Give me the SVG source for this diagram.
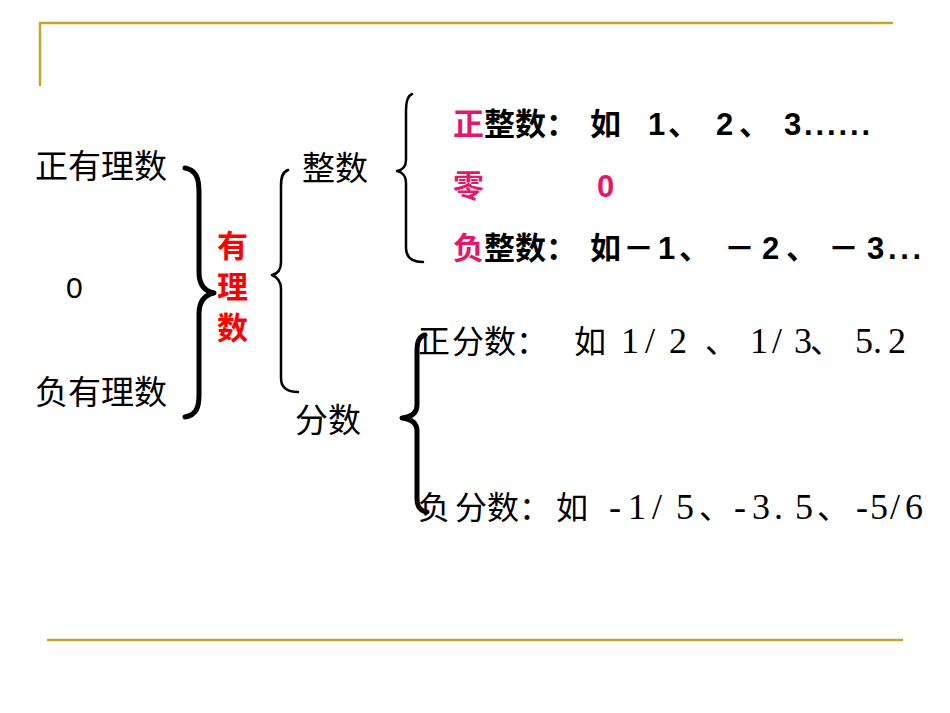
<svg xmlns="http://www.w3.org/2000/svg" width="950" height="713" viewBox="0 0 950 713">
<style>
.gold{stroke:#C9A22A;stroke-width:2.5;fill:none}
.brace{fill:none;stroke:#000;stroke-linecap:round;stroke-linejoin:round}
.thick{stroke-width:5}
.thin{stroke-width:2.5}
.cjk{font-family:"Noto Sans CJK SC","Noto Sans",sans-serif;font-size:33px;fill:#000}
.bold{font-family:"Noto Sans CJK SC","Liberation Sans",sans-serif;font-size:31px;font-weight:bold;fill:#000}
.num{font-family:"Liberation Sans",Arial,sans-serif;font-size:31px;font-weight:bold;fill:#000}
.pink{fill:#E5176C}
.red{font-family:"Noto Sans CJK SC",sans-serif;font-size:31px;font-weight:bold;fill:#FF0000}
.frc{font-family:"Noto Sans CJK SC",sans-serif;font-size:32px;fill:#000}
.ser{font-family:"Liberation Serif","Times New Roman",serif;font-size:36px;fill:#000}
</style>
<rect width="950" height="713" fill="#fff"/>
<g id="frame">
<line class="gold" x1="39" y1="23" x2="893" y2="23"/>
<line class="gold" x1="40" y1="23" x2="40" y2="86"/>
<line class="gold" x1="47" y1="640" x2="903" y2="640"/>
</g>
<g id="connectors">
<path class="brace thick" d="M185,168 C196,170 199,178 199,192 L199,272 C199,284 204,291 214,293 C204,295 199,302 199,314 L199,395 C199,408 196,415 185,417"/>
<path class="brace thin" d="M288,170 C282,172 281,178 281,186 L281,262 C281,270 277,274 272,275 C277,277 281,281 281,289 L281,378 C281,388 288,392 298,392"/>
<path class="brace thin" d="M412,94 C407,96 406,102 406,110 L406,160 C406,167 402,170 397,171 C402,172 406,176 406,183 L406,248 C406,257 412,262 423,262"/>
<path class="brace thick" d="M425,335 C418,337 417,343 417,352 L417,405 C417,413 411,417 402,418 C411,419 417,423 417,431 L417,498 C417,507 420,511 427,512"/>
</g>
<g id="pos-rational"><text class="cjk" x="35" y="178">正有理数</text></g>
<g id="zero"><text x="66" y="298" font-family="Liberation Sans, Arial, sans-serif" font-size="30" fill="#000">0</text></g>
<g id="neg-rational"><text class="cjk" x="35" y="404">负有理数</text></g>
<g id="rational">
<text class="red"><tspan x="217" y="257">有</tspan><tspan x="217" y="298">理</tspan><tspan x="217" y="339">数</tspan></text>
</g>
<g id="integer"><text class="cjk" x="302" y="180">整数</text></g>
<g id="fraction"><text class="cjk" x="295" y="432">分数</text></g>
<g id="pos-integer">
<text class="bold pink" x="453" y="135">正</text>
<text class="bold" x="484" y="135">整数：</text>
<text class="bold" x="590" y="135">如</text>
<text class="num" x="648" y="135">1</text>
<text class="bold" x="668" y="135">、</text>
<text class="num" x="716" y="135">2</text>
<text class="bold" x="739" y="135">、</text>
<text class="num" x="784" y="135" textLength="86" lengthAdjust="spacing">3......</text>
</g>
<g id="zero-integer">
<text class="bold pink" x="453" y="197">零</text>
<text class="num pink" x="597" y="197">0</text>
</g>
<g id="neg-integer">
<text class="bold pink" x="453" y="259">负</text>
<text class="bold" x="484" y="259">整数：</text>
<text class="bold" x="590" y="259">如</text>
<text class="bold" x="623" y="259">－</text>
<text class="num" x="658" y="259">1</text>
<text class="bold" x="679" y="259">、</text>
<text class="bold" x="724" y="259">－</text>
<text class="num" x="762" y="259">2</text>
<text class="bold" x="786" y="259">、</text>
<text class="bold" x="828" y="259">－</text>
<text class="num" x="867" y="259" textLength="54" lengthAdjust="spacing">3...</text>
</g>
<g id="pos-fraction">
<text class="frc pink" x="418" y="353">正</text>
<text class="frc" x="452" y="353">分数：</text>
<text class="frc" x="574" y="353">如</text>
<text class="ser" x="621 645 669" y="353">1/2</text>
<text class="frc" x="705" y="353">、</text>
<text class="ser" x="750 772 794" y="353">1/3</text>
<text class="frc" x="810" y="353">、</text>
<text class="ser" x="855 873 888" y="353">5.2</text>
</g>
<g id="neg-fraction">
<text class="frc pink" x="418" y="519">负</text>
<text class="frc" x="455" y="519">分数：</text>
<text class="frc" x="556" y="519">如</text>
<text class="ser" x="609 628 652 676" y="519">-1/5</text>
<text class="frc" x="699" y="519">、</text>
<text class="ser" x="734 752 774 795" y="519">-3.5</text>
<text class="frc" x="817" y="519">、</text>
<text class="ser" x="856 870 890 905" y="519">-5/6</text>
</g>
</svg>
